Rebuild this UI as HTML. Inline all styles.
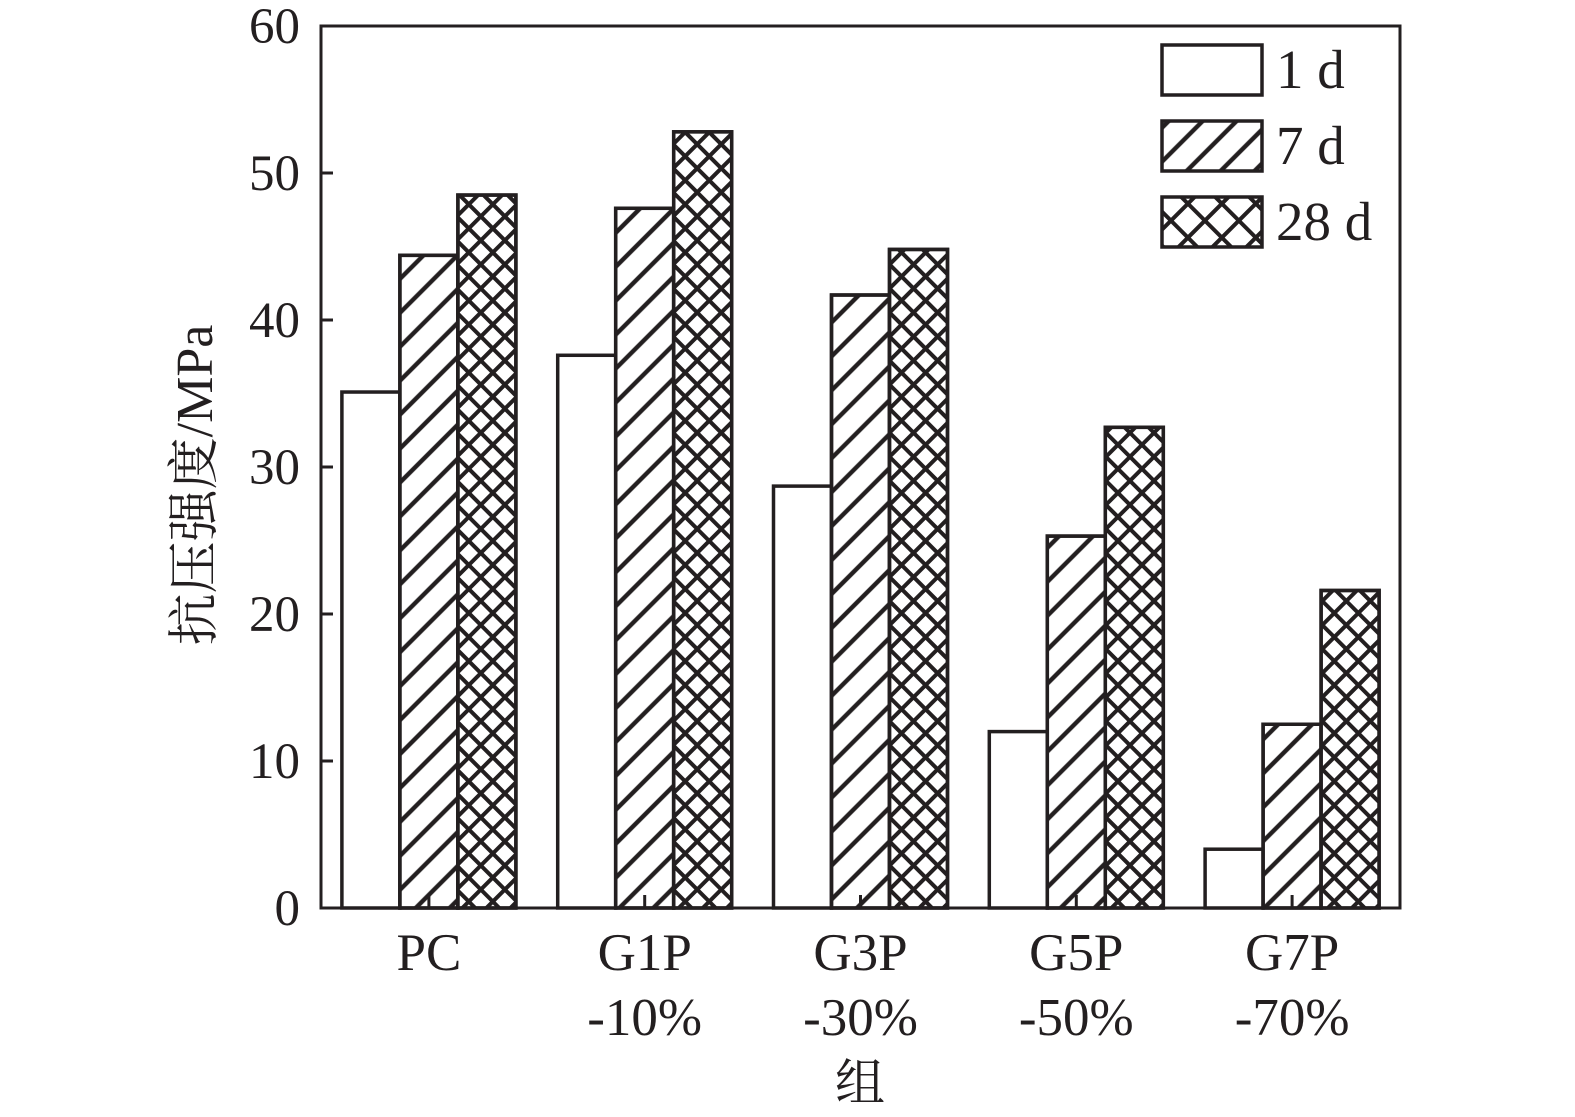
<!DOCTYPE html>
<html><head><meta charset="utf-8"><style>
body{margin:0;background:#fff}
svg text{font-family:"Liberation Serif","Noto Serif CJK SC",serif;fill:#231f20}
</style></head><body>
<svg width="1575" height="1112" viewBox="0 0 1575 1112" xmlns="http://www.w3.org/2000/svg">
<defs>
<pattern id="diag" patternUnits="userSpaceOnUse" width="24" height="24" patternTransform="rotate(45)">
<rect x="-2.2" y="0" width="4.4" height="24" fill="#231f20"/><rect x="21.8" y="0" width="4.4" height="24" fill="#231f20"/></pattern>
<pattern id="cross" patternUnits="userSpaceOnUse" width="17" height="17" patternTransform="rotate(45)">
<rect x="-2" y="0" width="4" height="17" fill="#231f20"/><rect x="15" y="0" width="4" height="17" fill="#231f20"/>
<rect x="0" y="-2" width="17" height="4" fill="#231f20"/><rect x="0" y="15" width="17" height="4" fill="#231f20"/></pattern>
<pattern id="crossL" patternUnits="userSpaceOnUse" width="24" height="24" patternTransform="rotate(45)">
<rect x="-2" y="0" width="4" height="24" fill="#231f20"/><rect x="22" y="0" width="4" height="24" fill="#231f20"/>
<rect x="0" y="-2" width="24" height="4" fill="#231f20"/><rect x="0" y="22" width="24" height="4" fill="#231f20"/></pattern>
</defs>
<g id="plot"></g>
</svg>
<script>
const categories=["PC","G1P","G3P","G5P","G7P"];
const subLabels=["","-10%","-30%","-50%","-70%"];
const series1d=[35.1,37.6,28.7,12.0,4.0];
const series7d=[44.4,47.6,41.7,25.3,12.5];
const series28d=[48.5,52.8,44.8,32.7,21.6];
const yTicks=[0,10,20,30,40,50,60];
const seriesNames=["1 d","7 d","28 d"];

const NS="http://www.w3.org/2000/svg";
const g=document.getElementById('plot');
const X0=321,X1=1400,Y0=908,Y1=26,YMAX=60;
const y=v=>Y0-(v/YMAX)*(Y0-Y1);
const bandW=(X1-X0)/categories.length;
const cx=i=>X0+bandW*(i+0.5);
const BW=58;
function el(t,a,p){const e=document.createElementNS(NS,t);for(const k in a)e.setAttribute(k,a[k]);(p||g).appendChild(e);return e;}
const C="#231f20";
const fills=["#fff","url(#diag)","url(#cross)"];
const all=[series1d,series7d,series28d];
const keys=["1d","7d","28d"];
all.forEach((s,k)=>{
 s.forEach((v,i)=>{
  const x=cx(i)-1.5*BW+k*BW;
  const r=el('rect',{x:x,y:y(v),width:BW,height:Y0-y(v),fill:"#fff",stroke:C,'stroke-width':3.5});
  
  
  if(k>0){el('rect',{x:x,y:y(v),width:BW,height:Y0-y(v),fill:fills[k],stroke:C,'stroke-width':3.5});}
 });
});
categories.forEach((c,i)=>{
 const t=el('line',{x1:cx(i),x2:cx(i),y1:Y0,y2:Y0-13,stroke:C,'stroke-width':3});
 
 
});
const ax=el('path',{d:`M${X0},${Y1} V${Y0} H${X1} V${Y1} Z`,fill:"none",stroke:C,'stroke-width':3});


yTicks.forEach(v=>{
 el('line',{x1:X0,x2:X0+12,y1:y(v),y2:y(v),stroke:C,'stroke-width':3});
 const t=el('text',{x:300,y:y(v)+17,'text-anchor':'end','font-size':51});
 t.textContent=v;
 
 
});
categories.forEach((c,i)=>{
 const t=el('text',{x:cx(i),y:970,'text-anchor':'middle','font-size':53});
 t.textContent=c;
 
 
 if(subLabels[i]){
  const s=el('text',{x:cx(i),y:1035,'text-anchor':'middle','font-size':53});
  s.textContent=subLabels[i];
  
  
 }
});
const xt=el('text',{x:860,y:1100,'text-anchor':'middle','font-size':50});
xt.textContent="组";


const yt=el('text',{x:0,y:0,'text-anchor':'middle','font-size':52,transform:'translate(212,485) rotate(-90)'});
yt.textContent="抗压强度/MPa";


const lf=["#fff","url(#diag)","url(#crossL)"];
seriesNames.forEach((n,k)=>{
 const ly=45+k*76;
 const r=el('rect',{x:1162,y:ly,width:100,height:50,fill:lf[k],stroke:C,'stroke-width':3.5});
 
 
 const t=el('text',{x:1276,y:ly+43,'font-size':55});
 t.textContent=n;
 
 
});
</script>
</body></html>
